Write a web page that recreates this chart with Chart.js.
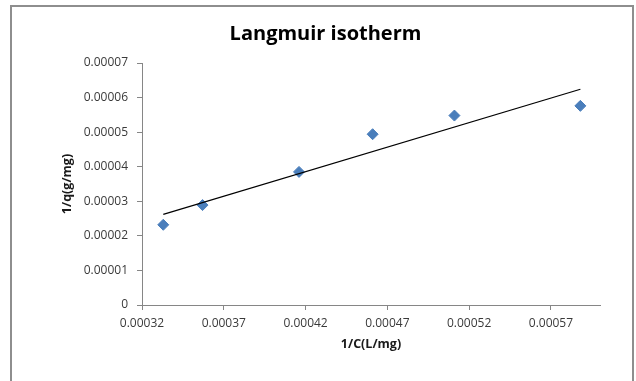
<!DOCTYPE html>
<html lang="en">
<head>
<meta charset="utf-8">
<title>Langmuir isotherm</title>

<script src="https://cdn.jsdelivr.net/npm/chart.js"></script>

<style>
  body{margin:0;background:#fff;font-family:"Open Sans",sans-serif}
  #wrap{position:relative;width:636px;height:381px;overflow:hidden}
  #frame{position:absolute;left:10px;top:5px;width:620px;height:420px;border:2px solid #8e8e8e;pointer-events:none}
</style>
</head>
<body>

<div id="wrap">
  <canvas id="chart" width="636" height="381"></canvas>
  <div id="frame"></div>
</div>

<script>
// 1/C (L/mg) and 1/q (g/mg)
const invC = [0.000333, 0.000357, 0.000416, 0.000461, 0.000511, 0.000588];
const invQ = [0.0000232, 0.0000289, 0.0000385, 0.0000494, 0.0000548, 0.0000576];

// linear trendline end points
const trendX = [0.000333, 0.000588];
const trendY = [0.0000262, 0.0000624];

const xTicks = [0.00032, 0.00037, 0.00042, 0.00047, 0.00052, 0.00057];
const xTickLabels = ['0.00032', '0.00037', '0.00042', '0.00047', '0.00052', '0.00057'];
const yTicks = [0, 0.00001, 0.00002, 0.00003, 0.00004, 0.00005, 0.00006, 0.00007];
const yTickLabels = ['0', '0.00001', '0.00002', '0.00003', '0.00004', '0.00005', '0.00006', '0.00007'];

const axisColor = '#868686';
const tickFont = { family: 'Open Sans', size: 12 };
const titleFont = { family: 'Open Sans', size: 12.5, weight: 'bold' };

new Chart(document.getElementById('chart'), {
  type: 'scatter',
  data: {
    datasets: [
      {
        label: 'Linear',
        data: trendX.map((x, i) => ({ x, y: trendY[i] })),
        showLine: true,
        borderColor: '#000',
        borderWidth: 1.2,
        pointRadius: 0
      },
      {
        label: '1/q',
        data: invC.map((x, i) => ({ x, y: invQ[i] })),
        pointStyle: 'rectRot',
        pointRadius: 5.5,
        backgroundColor: '#4a7ebb',
        borderColor: '#4a7ebb',
        borderWidth: 1
      }
    ]
  },
  options: {
    responsive: false,
    animation: false,
    layout: { padding: { left: 51, right: 36, top: 0, bottom: 0 } },
    plugins: {
      legend: { display: false },
      tooltip: { enabled: false },
      title: {
        display: true,
        text: 'Langmuir isotherm',
        color: '#000',
        font: { family: 'Open Sans', size: 20, weight: 'bold', lineHeight: 1.2 },
        padding: { top: 22, bottom: 17 }
      }
    },
    scales: {
      x: {
        type: 'linear',
        min: 0.00032,
        max: 0.0006,
        afterBuildTicks: (scale) => { scale.ticks = xTicks.map(v => ({ value: v })); },
        afterFit: (scale) => { scale.height = 76; },
        ticks: {
          color: '#3a3a3a',
          font: tickFont,
          padding: 6,
          maxRotation: 0,
          callback: (v, i) => xTickLabels[i]
        },
        grid: { drawOnChartArea: false, drawTicks: true, tickLength: 5, color: axisColor },
        border: { color: axisColor, width: 1 },
        title: { display: true, text: '1/C(L/mg)', color: '#1a1a1a', font: titleFont, padding: { top: 0, bottom: 29 } }
      },
      y: {
        type: 'linear',
        min: 0,
        max: 0.00007,
        afterBuildTicks: (scale) => { scale.ticks = yTicks.map(v => ({ value: v })); },
        afterFit: (scale) => { scale.width = 91; },
        ticks: {
          color: '#3a3a3a',
          font: tickFont,
          padding: 9,
          callback: (v, i) => yTickLabels[i]
        },
        grid: { drawOnChartArea: false, drawTicks: true, tickLength: 5, color: axisColor },
        border: { color: axisColor, width: 1 },
        title: { display: true, text: '1/q(g/mg)', color: '#1a1a1a', font: titleFont, padding: { top: 9, bottom: 0 } }
      }
    }
  }
});
</script>

</body>
</html>
